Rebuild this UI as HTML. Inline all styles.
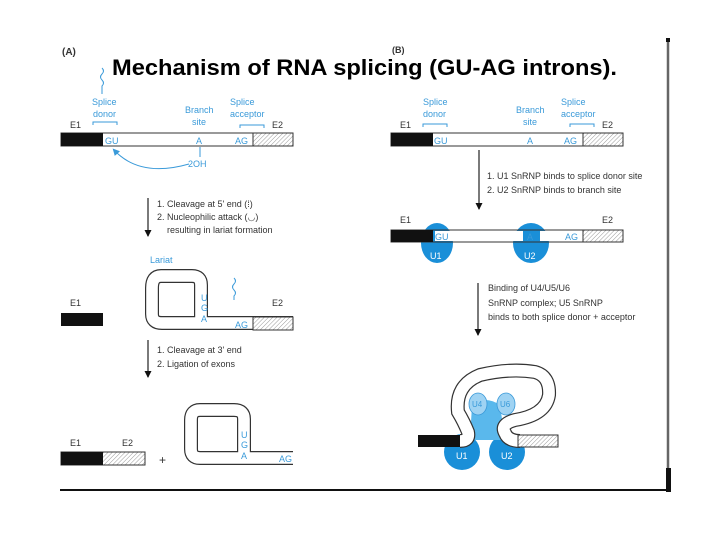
<!DOCTYPE html>
<html><head><meta charset="utf-8"><style>
html,body{margin:0;padding:0;background:#fff;}
svg{display:block;}
text{font-family:"Liberation Sans",sans-serif;}
.s{font-size:9px;fill:#333;}
.b{font-size:9px;fill:#3a9ad9;}
</style></head><body>
<svg width="720" height="540" viewBox="0 0 720 540" xmlns="http://www.w3.org/2000/svg">
<defs>
<pattern id="h" width="3" height="3" patternUnits="userSpaceOnUse" patternTransform="rotate(45)">
<rect width="3" height="3" fill="#fff"/><line x1="0" y1="0" x2="0" y2="3" stroke="#999" stroke-width="1"/></pattern>
<marker id="ar" markerWidth="7" markerHeight="7" refX="6" refY="3.5" orient="auto" markerUnits="userSpaceOnUse"><path d="M0,0 L7,3.5 L0,7 Z" fill="#111"/></marker>
<marker id="ab" markerWidth="7" markerHeight="7" refX="5" refY="3.5" orient="auto" markerUnits="userSpaceOnUse"><path d="M0,0 L7,3.5 L0,7 Z" fill="#3a9ad9"/></marker>
</defs>
<text x="62" y="55" font-size="10" font-weight="bold" fill="#333">(A)</text>
<text x="392" y="53" font-size="9" font-weight="bold" fill="#333">(B)</text>
<text x="112" y="75" font-size="22" font-weight="bold" fill="#000" textLength="505" lengthAdjust="spacingAndGlyphs">Mechanism of RNA splicing (GU-AG introns).</text>

<!-- Panel A top -->
<path d="M102 68 q3 3 0 6 q-3 3 0 6 q3 3 0 6 v8" stroke="#3a9ad9" fill="none" stroke-width="1"/>
<text class="b" x="92" y="105">Splice</text><text class="b" x="93" y="117">donor</text>
<path d="M93 125 v-3 h24 v3" stroke="#3a9ad9" fill="none"/>
<text class="b" x="185" y="113">Branch</text><text class="b" x="192" y="125">site</text>
<text class="b" x="230" y="105">Splice</text><text class="b" x="230" y="117">acceptor</text>
<path d="M240 128 v-3 h24 v3" stroke="#3a9ad9" fill="none"/>
<text class="s" x="70" y="128">E1</text><text class="s" x="272" y="128">E2</text>
<rect x="61" y="133" width="232" height="13" fill="#fff" stroke="#333"/>
<rect x="61" y="133" width="42" height="13" fill="#111"/>
<rect x="253" y="133" width="40" height="13" fill="url(#h)" stroke="#333"/>
<text class="b" x="105" y="144">GU</text><text class="b" x="196" y="144">A</text><text class="b" x="235" y="144">AG</text>
<line x1="200" y1="147" x2="200" y2="157" stroke="#3a9ad9"/>
<text class="b" x="188" y="167">2OH</text>
<path d="M189 164 Q140 178 114 150" stroke="#3a9ad9" fill="none" marker-end="url(#ab)"/>
<line x1="148" y1="198" x2="148" y2="236" stroke="#333" stroke-width="1.3" marker-end="url(#ar)"/>
<text class="s" x="157" y="207">1.  Cleavage at 5' end (⁞)</text>
<text class="s" x="157" y="220">2.  Nucleophilic attack (◡)</text>
<text class="s" x="167" y="233">resulting in lariat formation</text>

<text class="b" x="150" y="263">Lariat</text>
<path d="M293 323 H201 V285 Q201 276 192 276 H161 Q152 276 152 288 V314 Q152 323 162 323 H198" stroke="#333" stroke-width="14" fill="none"/>
<path d="M293 323 H201 V285 Q201 276 192 276 H161 Q152 276 152 288 V314 Q152 323 162 323 H198" stroke="#fff" stroke-width="11.6" fill="none"/>
<rect x="253" y="317" width="40" height="13" fill="url(#h)" stroke="#333"/>
<text class="b" x="201" y="301" font-size="8">U</text><text class="b" x="201" y="311" font-size="8">G</text><text class="b" x="201" y="322" font-size="8">A</text>
<text class="b" x="235" y="328">AG</text>
<path d="M234 278 q3 3 0 6 q-3 3 0 6 q3 3 0 6 v4" stroke="#3a9ad9" fill="none"/>
<text class="s" x="70" y="306">E1</text><text class="s" x="272" y="306">E2</text>
<rect x="61" y="313" width="42" height="13" fill="#111"/>
<line x1="148" y1="340" x2="148" y2="377" stroke="#333" stroke-width="1.3" marker-end="url(#ar)"/>
<text class="s" x="157" y="353">1.  Cleavage at 3' end</text>
<text class="s" x="157" y="367">2.  Ligation of exons</text>

<text class="s" x="70" y="446">E1</text><text class="s" x="122" y="446">E2</text>
<rect x="61" y="452" width="84" height="13" fill="url(#h)" stroke="#333"/>
<rect x="61" y="452" width="42" height="13" fill="#111"/>
<text x="159" y="464" font-size="12" fill="#333">+</text>
<path d="M293 458 H244 V419 Q244 410 234 410 H200 Q191 410 191 420 V449 Q191 458 200 458 H240" stroke="#333" stroke-width="14" fill="none"/>
<path d="M293 458 H244 V419 Q244 410 234 410 H200 Q191 410 191 420 V449 Q191 458 200 458 H240" stroke="#fff" stroke-width="11.6" fill="none"/>
<text class="b" x="241" y="438" font-size="8">U</text><text class="b" x="241" y="448" font-size="8">G</text><text class="b" x="241" y="459" font-size="8">A</text>
<text class="b" x="279" y="462">AG</text>

<!-- Panel B -->
<text class="b" x="423" y="105">Splice</text><text class="b" x="423" y="117">donor</text>
<path d="M423 127 v-3 h24 v3" stroke="#3a9ad9" fill="none"/>
<text class="b" x="516" y="113">Branch</text><text class="b" x="523" y="125">site</text>
<text class="b" x="561" y="105">Splice</text><text class="b" x="561" y="117">acceptor</text>
<path d="M570 127 v-3 h24 v3" stroke="#3a9ad9" fill="none"/>
<text class="s" x="400" y="128">E1</text><text class="s" x="602" y="128">E2</text>
<rect x="391" y="133" width="232" height="13" fill="#fff" stroke="#333"/>
<rect x="391" y="133" width="42" height="13" fill="#111"/>
<rect x="583" y="133" width="40" height="13" fill="url(#h)" stroke="#333"/>
<text class="b" x="434" y="144">GU</text><text class="b" x="527" y="144">A</text><text class="b" x="564" y="144">AG</text>
<line x1="479" y1="150" x2="479" y2="209" stroke="#333" stroke-width="1.3" marker-end="url(#ar)"/>
<text class="s" x="487" y="179">1.  U1 SnRNP binds to splice donor site</text>
<text class="s" x="487" y="193">2.  U2 SnRNP binds to branch site</text>
<text class="s" x="400" y="223">E1</text><text class="s" x="602" y="223">E2</text>
<ellipse cx="437" cy="243" rx="16" ry="20" fill="#1a8fd8"/>
<ellipse cx="531" cy="243" rx="18" ry="20" fill="#1a8fd8"/>
<rect x="391" y="230" width="232" height="12" fill="none" stroke="#333"/>
<rect x="435" y="231" width="88" height="10" fill="#fff"/>
<rect x="540" y="231" width="43" height="10" fill="#fff"/>
<rect x="391" y="230" width="42" height="12" fill="#111"/>
<rect x="583" y="230" width="40" height="12" fill="url(#h)" stroke="#333"/>
<line x1="433" y1="230" x2="583" y2="230" stroke="#333"/><line x1="433" y1="242" x2="583" y2="242" stroke="#333"/>
<text class="b" x="435" y="240">GU</text><text class="b" x="527" y="240">A</text><text class="b" x="565" y="240">AG</text>
<text x="430" y="259" font-size="9" fill="#fff">U1</text><text x="524" y="259" font-size="9" fill="#fff">U2</text>
<line x1="478" y1="283" x2="478" y2="335" stroke="#333" stroke-width="1.3" marker-end="url(#ar)"/>
<text class="s" x="488" y="291">Binding of U4/U5/U6</text>
<text class="s" x="488" y="306">SnRNP complex; U5 SnRNP</text>
<text class="s" x="488" y="320">binds to both splice donor + acceptor</text>

<circle cx="462" cy="452" r="18" fill="#1a8fd8"/><circle cx="507" cy="452" r="18" fill="#1a8fd8"/>
<path d="M472 405 Q485 395 500 405 L505 440 L470 440 Z" fill="#5ab8ec"/>
<ellipse cx="478" cy="404" rx="9" ry="11" fill="#9fd3f3" stroke="#3a9ad9" stroke-width="0.8"/>
<ellipse cx="506" cy="404" rx="9" ry="11" fill="#9fd3f3" stroke="#3a9ad9" stroke-width="0.8"/>
<text x="472" y="407" font-size="8" fill="#3a9ad9">U4</text><text x="500" y="407" font-size="8" fill="#3a9ad9">U6</text>
<path d="M460 441 Q470 441 468 432 Q464 422 458 412 Q455 385 480 375 Q510 368 535 372 Q550 376 549 395 Q546 415 515 420 Q500 424 505 433 Q508 441 520 441" stroke="#333" stroke-width="14" fill="none"/>
<path d="M460 441 Q470 441 468 432 Q464 422 458 412 Q455 385 480 375 Q510 368 535 372 Q550 376 549 395 Q546 415 515 420 Q500 424 505 433 Q508 441 520 441" stroke="#fff" stroke-width="11.6" fill="none"/>
<rect x="418" y="435" width="42" height="12" fill="#111"/>
<rect x="518" y="435" width="40" height="12" fill="url(#h)" stroke="#333"/>
<text x="456" y="459" font-size="9" fill="#fff">U1</text><text x="501" y="459" font-size="9" fill="#fff">U2</text>

<line x1="60" y1="490" x2="670" y2="490" stroke="#111" stroke-width="2"/>
<line x1="668" y1="40" x2="668" y2="490" stroke="#666" stroke-width="2.5"/>
<rect x="666" y="38" width="4" height="4" fill="#111"/>
<rect x="666" y="468" width="5" height="24" fill="#111"/>
</svg>
</body></html>
